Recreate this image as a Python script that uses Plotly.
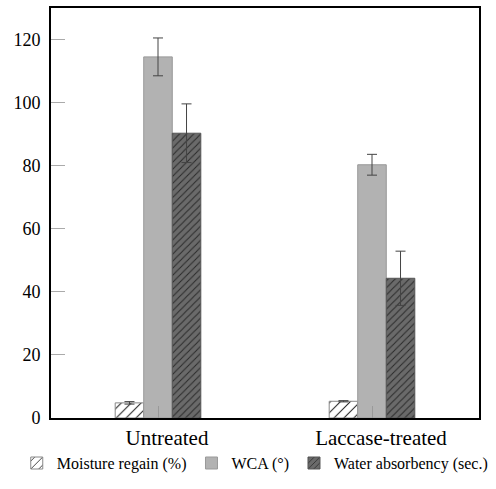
import plotly.graph_objects as go

categories = ["Untreated", "Laccase-treated"]
series_names = ["Moisture regain (%)", "WCA (°)", "Water absorbency (sec.)"]
moisture = [4.8, 5.3]
moisture_err = [0.4, 0.2]
wca = [114.5, 80.3]
wca_err = [6.0, 3.3]
water = [90.3, 44.3]
water_err = [9.3, 8.6]
y_ticks = [0, 20, 40, 60, 80, 100, 120]

FONT = "Liberation Serif, Times New Roman, serif"

def err(vals):
    return dict(type="data", array=vals, visible=True, color="#444444", thickness=1, width=5)

fig = go.Figure()
fig.add_trace(go.Bar(
    name=series_names[0], x=categories, y=moisture, error_y=err(moisture_err),
    marker=dict(color="white", line=dict(color="#888888", width=1),
                pattern=dict(shape="/", fgcolor="#222222", bgcolor="white", size=7, solidity=0.15, fillmode="replace")),
))
fig.add_trace(go.Bar(
    name=series_names[1], x=categories, y=wca, error_y=err(wca_err),
    marker=dict(color="#b2b2b2", line=dict(color="#999999", width=1)),
))
fig.add_trace(go.Bar(
    name=series_names[2], x=categories, y=water, error_y=err(water_err),
    marker=dict(color="#6a6a6a", line=dict(color="#555555", width=1),
                pattern=dict(shape="/", fgcolor="#2a2a2a", bgcolor="#6a6a6a", size=5, solidity=0.2, fillmode="replace")),
))

fig.update_layout(
    width=496, height=489,
    margin=dict(l=51, r=17, t=8, b=71, autoexpand=False),
    paper_bgcolor="white", plot_bgcolor="white",
    barmode="group", bargap=0.6, bargroupgap=0,
    font=dict(family=FONT, color="black"),
    showlegend=True,
    legend=dict(orientation="h", x=-0.08, xanchor="left",
                y=-0.11, yanchor="middle", font=dict(size=16, family=FONT),
                itemwidth=30, tracegroupgap=0, bgcolor="rgba(0,0,0,0)", borderwidth=0),
    xaxis=dict(showline=True, linecolor="black", linewidth=2, mirror=True,
               ticks="inside", ticklen=12, tickcolor="#999999", tickangle=0, automargin=False,
               ticklabelshift=9,
               tickfont=dict(size=21, family=FONT), showgrid=False),
    yaxis=dict(range=[0, 130], tickvals=y_ticks, showline=True, linecolor="black", linewidth=2, mirror=True,
               ticks="inside", ticklen=14, tickcolor="#aaaaaa", automargin=False, ticklabelstandoff=5,
               tickfont=dict(size=18, family=FONT), showgrid=False, zeroline=False),
)

fig.write_html("out.html", config={"displayModeBar": False},
               post_script="document.body.style.margin='0';document.body.style.overflow='hidden';")
